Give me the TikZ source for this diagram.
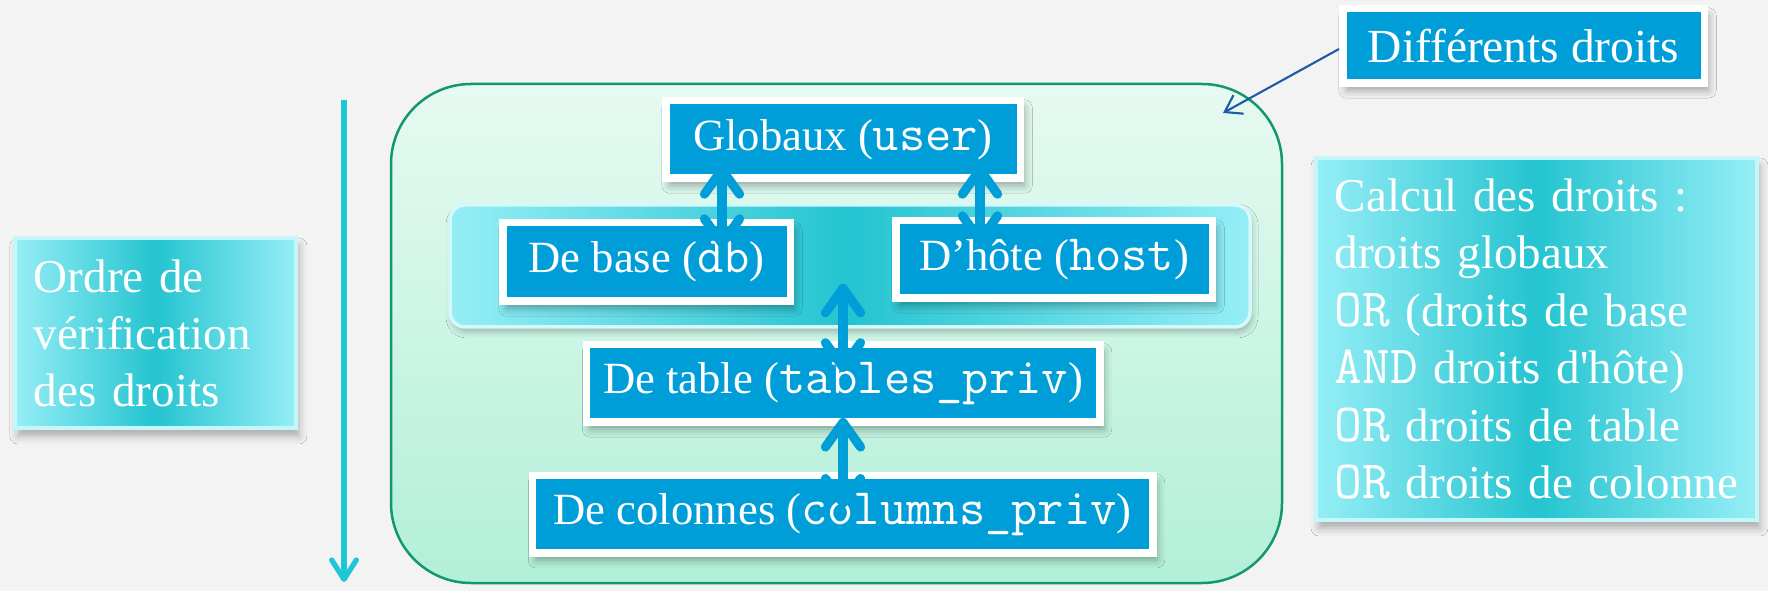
\documentclass[tikz,border=0pt]{standalone}
\usepackage{fontspec}
\setmainfont{Liberation Serif}
\setmonofont[Scale=1.143]{Latin Modern Mono}
\usetikzlibrary{arrows.meta,shadows.blur}

\definecolor{slide}{RGB}{243,243,243}
\definecolor{boxblue}{RGB}{0,158,216}
\definecolor{mintlt}{RGB}{230,250,241}
\definecolor{mintdk}{RGB}{178,240,216}
\definecolor{mintline}{RGB}{18,152,108}
\definecolor{cyanlt}{RGB}{150,238,246}
\definecolor{cyanmid}{RGB}{36,196,208}
\definecolor{ordercyan}{RGB}{30,198,214}
\definecolor{notearrow}{RGB}{30,90,165}

\tikzset{
  privbox/.style={fill=boxblue, draw=white, line width=0.75mm, text=white,
    inner sep=0pt, minimum height=7.75mm,
    font=\fontsize{12.7}{15}\selectfont,
    blur shadow={shadow xshift=0.4mm, shadow yshift=-0.7mm,
      shadow blur radius=0.8mm, shadow opacity=35}},
  sidebox/.style={left color=cyanlt, right color=cyanlt, middle color=cyanmid,
    draw=white!45!cyanlt, line width=0.4mm, text=white, align=left,
    inner ysep=0pt,
    blur shadow={shadow xshift=0.3mm, shadow yshift=-0.8mm,
      shadow blur radius=0.8mm, shadow opacity=30}},
  frame/.style={top color=mintlt, bottom color=mintdk, draw=mintline,
    line width=0.25mm, rounded corners=8mm,
    minimum width=89.1mm, minimum height=49.9mm},
  band/.style={left color=cyanlt, right color=cyanlt, middle color=cyanmid,
    draw=white!60!cyanlt, line width=0.35mm, rounded corners=1.5mm,
    minimum width=80mm, minimum height=12.2mm,
    blur shadow={shadow xshift=0.2mm, shadow yshift=-0.5mm,
      shadow blur radius=0.6mm, shadow opacity=25}},
  link/.style={boxblue, line width=2.6pt, line cap=round,
    >={Straight Barb[length=7pt,width=10pt,round]}, <->},
  note/.style={notearrow, line width=0.6pt,
    -{Straight Barb[length=4.5pt,width=6pt]}},
  order/.style={ordercyan, line width=1.5pt,
    -{Straight Barb[length=5.5pt,width=7pt,round]}}
}

\begin{document}
\begin{tikzpicture}[x=0.1mm, y=0.1mm]
  % slide background
  \path[use as bounding box, fill=slide] (0,0) rectangle (1768,591);

  % frame holding the privilege levels
  \node[frame] (rights) at (836.5,257.5) {};
  % band grouping db and host
  \node[band] (level) at (850,325) {};

  % privilege tables
  \node[privbox, minimum width=35.45mm] (glob) at (843,451.5)
    {Globaux (\texttt{user})};
  \node[privbox, minimum width=28.75mm, minimum height=7.85mm] (base)
    at (646.5,329) {De base (\texttt{db})};
  \node[privbox, minimum width=31.65mm] (host) at (1054,331.5)
    {D’hôte (\texttt{host})};
  \node[privbox, minimum width=51.35mm] (table) at (843,207.6)
    {De table (\texttt{tables\_priv})};
  \node[privbox, minimum width=62.05mm] (cols) at (842.5,76.8)
    {De colonnes (\texttt{columns\_priv})};

  % links between levels
  \coordinate (gbx) at (722,0);
  \coordinate (ghx) at (980,0);
  \draw[link, shorten <=-1.7mm, shorten >=-2.9mm]
    (glob.south -| gbx) -- (base.north -| gbx);
  \draw[link, shorten <=-1.7mm, shorten >=-2.8mm]
    (glob.south -| ghx) -- (host.north -| ghx);
  \draw[link, shorten <=-4.5mm, shorten >=-3.1mm]
    (level.south -| table.north) -- (table.north);
  \draw[link, shorten <=-0.8mm, shorten >=-3.6mm]
    (table.south) -- (cols.north -| table.south);

  % caption box with its pointer
  \node[privbox, minimum width=36.15mm, minimum height=7.45mm,
    font=\fontsize{13.5}{16}\selectfont] (diff) at (1523.5,545)
    {Différents droits};
  \coordinate (noteend) at (1223,478);
  \draw[note] ([yshift=-0.3mm]diff.west) -- (noteend);

  % order of checking
  \coordinate (ordtop) at (344,491);
  \coordinate (ordbot) at (344,9);
  \draw[order] (ordtop) -- (ordbot);
  \node[sidebox, minimum width=28.1mm, minimum height=19mm,
    text width=24.3mm, inner xsep=1.9mm,
    font=\fontsize{13.4}{16.2}\selectfont] (check) at (155.4,258)
    {Ordre de\\vérification\\des droits};

  % how the rights combine
  \node[sidebox, minimum width=44.1mm, minimum height=36.2mm,
    text width=40.36mm, inner xsep=1.87mm,
    font=\fontsize{13.4}{16.36}\selectfont] (calc) at (1536.5,252)
    {Calcul des droits :\\
     droits globaux\\
     \texttt{OR} (droits de base\\
     \texttt{AND} droits d\textquotesingle hôte)\\
     \texttt{OR} droits de table\\
     \texttt{OR} droits de colonne};
\end{tikzpicture}
\end{document}
